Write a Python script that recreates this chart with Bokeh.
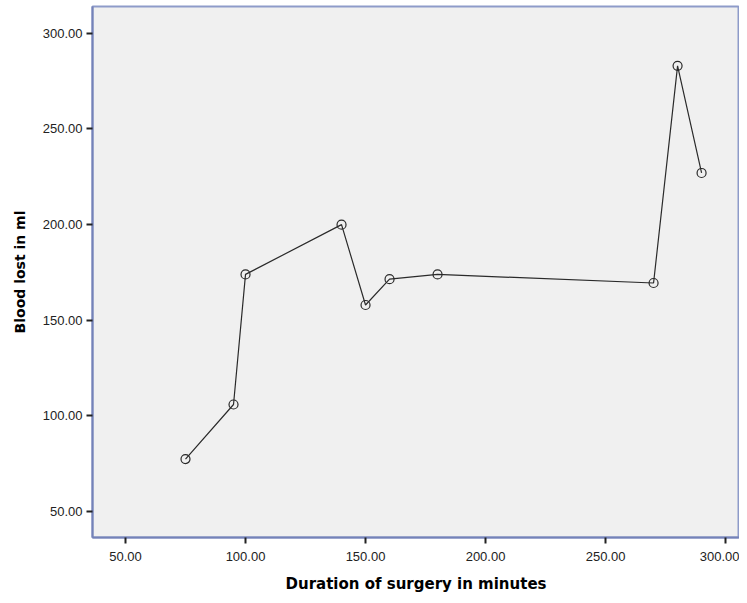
from bokeh.plotting import figure
from bokeh.models import FixedTicker, PrintfTickFormatter, Range1d
from bokeh.embed import file_html
from bokeh.resources import INLINE

duration = [75, 95, 100, 140, 150, 160, 180, 270, 280, 290]
blood_lost = [77.5, 106.0, 174.0, 200.0, 158.0, 171.5, 174.0, 169.5, 283.0, 227.0]
x_ticks = [50, 100, 150, 200, 250, 300]
y_ticks = [50, 100, 150, 200, 250, 300]

p = figure(width=739, height=595, output_backend="svg", toolbar_location=None,
           x_range=Range1d(36.25, 305.8), y_range=Range1d(36.5, 314.0),
           min_border_left=92, min_border_right=0, min_border_top=6, min_border_bottom=54)
p.background_fill_color = "#F0F0F0"
p.border_fill_color = "white"
p.outline_line_color = "#8E9BC9"
p.outline_line_width = 2
p.grid.visible = False

p.line(duration, blood_lost, line_color="#2a2a2a", line_width=1.2)
p.scatter(duration, blood_lost, marker="circle", size=9, fill_color=None,
          line_color="#2a2a2a", line_width=1.2)

for ax, ticks, label in ((p.xaxis[0], x_ticks, "Duration of surgery in minutes"),
                         (p.yaxis[0], y_ticks, "Blood lost in ml")):
    ax.ticker = FixedTicker(ticks=ticks)
    ax.formatter = PrintfTickFormatter(format="%.2f")
    ax.axis_label = label
    ax.axis_label_text_font = "DejaVu Sans"
    ax.axis_label_text_font_style = "bold"
    ax.axis_label_text_color = "black"
    ax.major_label_text_font = "Liberation Sans"
    ax.major_label_text_font_size = "13px"
    ax.major_label_text_color = "#222222"
    ax.axis_line_color = "#7482B8"
    ax.axis_line_width = 2
    ax.major_tick_line_color = "#222222"
    ax.major_tick_line_width = 2
    ax.major_tick_out = 6
    ax.major_tick_in = 0
    ax.minor_tick_line_color = None
    ax.major_label_standoff = 4

p.xaxis[0].axis_label_text_font_size = "15px"
p.yaxis[0].axis_label_text_font_size = "14px"
p.xaxis[0].major_label_standoff = 8
p.xaxis[0].axis_label_standoff = 11
p.yaxis[0].axis_label_standoff = 12

open("out.html", "w").write(file_html(p, INLINE))
